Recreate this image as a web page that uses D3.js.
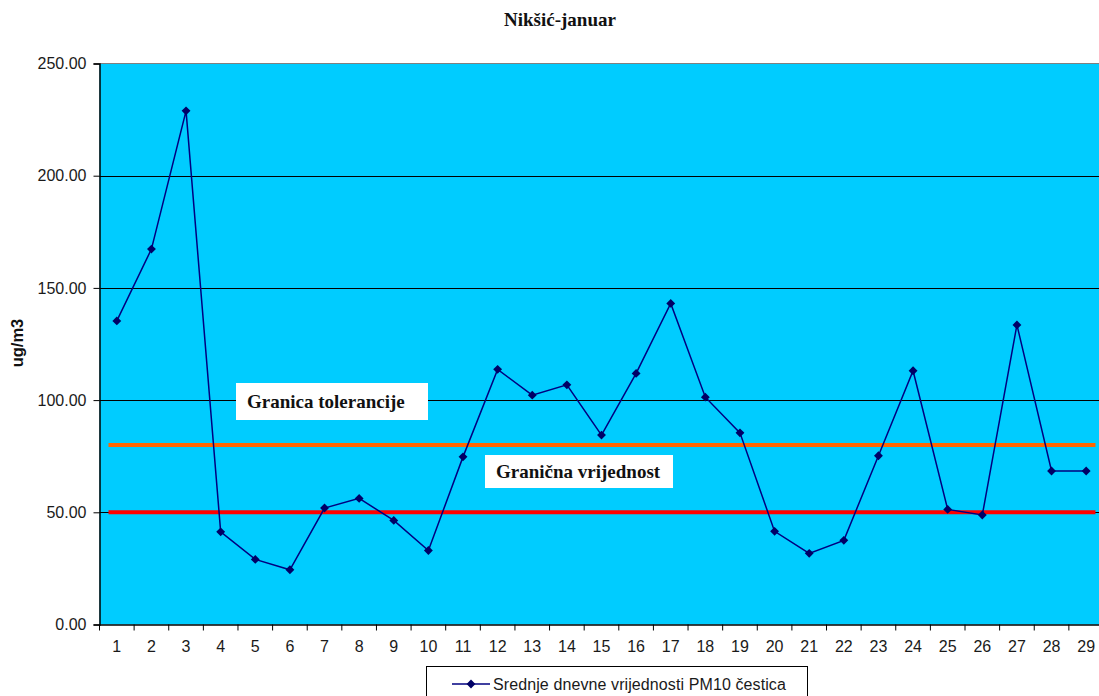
<!DOCTYPE html>
<html>
<head>
<meta charset="utf-8">
<script src="https://cdn.jsdelivr.net/npm/d3@7/dist/d3.min.js"></script>
<style>
  html, body { margin: 0; padding: 0; background: #ffffff; }
  svg { display: block; }
</style>
</head>
<body>
<svg id="chart" width="1099" height="696"></svg>
<script>
// Daily mean PM10 concentrations, Nikšić, January
const days = d3.range(1, 30).map(String);
const pm10 = [135.3, 167.3, 228.9, 41.3, 29.0, 24.4, 51.9, 56.2, 46.4, 33.0,
              74.7, 113.7, 102.2, 106.8, 84.4, 111.9, 143.1, 101.3, 85.4, 41.5,
              31.7, 37.5, 75.2, 113.1, 51.3, 48.8, 133.5, 68.4, 68.4];
const yTicks = [0, 50, 100, 150, 200, 250];
const toleranceLimit = 80;   // Granica tolerancije
const limitValue = 50;       // Granična vrijednost

const title = "Nikšić-januar";
const yLabel = "ug/m3";
const seriesName = "Srednje dnevne vrijednosti PM10 čestica";
const toleranceText = "Granica tolerancije";
const limitText = "Granična vrijednost";

const svg = d3.select("#chart");
const plot = { left: 99.5, top: 63.5, bottom: 624.5, step: 34.62 };
const plotRight = plot.left + plot.step * days.length;

const x = d3.scaleBand().domain(days).range([plot.left, plotRight]).paddingInner(0).paddingOuter(0);
const y = d3.scaleLinear().domain([0, 250]).range([plot.bottom, plot.top]);
const cx = d => x(d) + x.bandwidth() / 2;

const sans = "Liberation Sans, Arial, sans-serif";
const serif = "Liberation Serif, Times New Roman, serif";

// plot background
svg.append("rect")
  .attr("x", plot.left).attr("y", plot.top)
  .attr("width", plotRight - plot.left).attr("height", plot.bottom - plot.top)
  .attr("fill", "#00CCFF");

// horizontal gridlines
svg.append("g").selectAll("line")
  .data(yTicks.filter(t => t > 0 && t < 250))
  .join("line")
  .attr("x1", plot.left).attr("x2", plotRight)
  .attr("y1", d => Math.round(y(d)) + 0.5).attr("y2", d => Math.round(y(d)) + 0.5)
  .attr("stroke", "#000000").attr("stroke-width", 1);

// top border of the plot area
svg.append("line")
  .attr("x1", plot.left).attr("x2", plotRight)
  .attr("y1", y(250)).attr("y2", y(250))
  .attr("stroke", "#808080").attr("stroke-width", 1);

// threshold lines
const x0 = x(days[0]) + 9;
const x1 = x(days[days.length - 1]) + x.bandwidth() - 8;
svg.append("line")
  .attr("x1", x0).attr("x2", x1)
  .attr("y1", y(toleranceLimit)).attr("y2", y(toleranceLimit))
  .attr("stroke", "#FF6600").attr("stroke-width", 4);
svg.append("line")
  .attr("x1", x0).attr("x2", x1)
  .attr("y1", y(limitValue)).attr("y2", y(limitValue))
  .attr("stroke", "#FF0000").attr("stroke-width", 4);

// y axis
const yAxis = d3.axisLeft(y).tickValues(yTicks).tickFormat(d3.format(".2f")).tickSize(6).tickPadding(7);
const gy = svg.append("g").attr("transform", `translate(${plot.left},0)`).call(yAxis);
gy.select(".domain").attr("stroke", "#000").attr("stroke-width", 1.5);
gy.selectAll(".tick line").attr("stroke", "#000");
gy.selectAll("text").attr("font-family", sans)
  .attr("font-size", 16).attr("fill", "#1a1a1a");

// x axis with ticks at category boundaries
const xAxis = d3.axisBottom(x).tickSize(0).tickPadding(16);
const gx = svg.append("g").attr("transform", `translate(0,${plot.bottom})`).call(xAxis);
gx.select(".domain").attr("stroke", "#000").attr("stroke-width", 1.5);
gx.selectAll("text").attr("font-family", sans)
  .attr("font-size", 16).attr("fill", "#1a1a1a");
gx.append("g").selectAll("line")
  .data(days.concat(["end"]))
  .join("line")
  .attr("x1", (d, i) => plot.left + i * x.step()).attr("x2", (d, i) => plot.left + i * x.step())
  .attr("y1", 0).attr("y2", 6)
  .attr("stroke", "#000");

// series line
const line = d3.line().x((d, i) => cx(days[i])).y(d => y(d));
svg.append("path")
  .datum(pm10)
  .attr("d", line)
  .attr("fill", "none")
  .attr("stroke", "#000080")
  .attr("stroke-width", 1.5);

// diamond markers
const diamond = d3.symbol().type(d3.symbolDiamond2).size(50);
svg.append("g").selectAll("path")
  .data(pm10)
  .join("path")
  .attr("transform", (d, i) => `translate(${cx(days[i])},${y(d)})`)
  .attr("d", diamond)
  .attr("fill", "#000066");

// annotation boxes
function noteBox(label, bx, by, bw, bh) {
  const g = svg.append("g");
  g.append("rect").attr("x", bx).attr("y", by).attr("width", bw).attr("height", bh).attr("fill", "#ffffff");
  g.append("text").attr("x", bx + 11).attr("y", by + bh / 2 + 6)
    .attr("font-family", serif)
    .attr("font-weight", "bold").attr("font-size", 19).attr("fill", "#111")
    .text(label);
}
noteBox(toleranceText, 236, 383, 192, 37);
noteBox(limitText, 485, 455, 188, 33);

// title
svg.append("text")
  .attr("x", 560).attr("y", 26)
  .attr("text-anchor", "middle")
  .attr("font-family", serif)
  .attr("font-weight", "bold").attr("font-size", 19).attr("fill", "#111")
  .text(title);

// y axis title
svg.append("text")
  .attr("transform", "translate(23,343) rotate(-90)")
  .attr("text-anchor", "middle")
  .attr("font-family", sans)
  .attr("font-weight", "bold").attr("font-size", 16.5).attr("fill", "#111")
  .text(yLabel);

// legend
const lg = svg.append("g");
lg.append("rect").attr("x", 426.5).attr("y", 666.5).attr("width", 381).attr("height", 40)
  .attr("fill", "#ffffff").attr("stroke", "#000").attr("stroke-width", 1);
lg.append("line").attr("x1", 452).attr("x2", 490).attr("y1", 684).attr("y2", 684)
  .attr("stroke", "#000080").attr("stroke-width", 1.5);
lg.append("path").attr("transform", "translate(471,684)").attr("d", diamond).attr("fill", "#000066");
lg.append("text").attr("x", 493).attr("y", 690)
  .attr("font-family", sans)
  .attr("font-size", 16).attr("letter-spacing", 0.1).attr("fill", "#1a1a1a")
  .text(seriesName);
</script>
</body>
</html>
